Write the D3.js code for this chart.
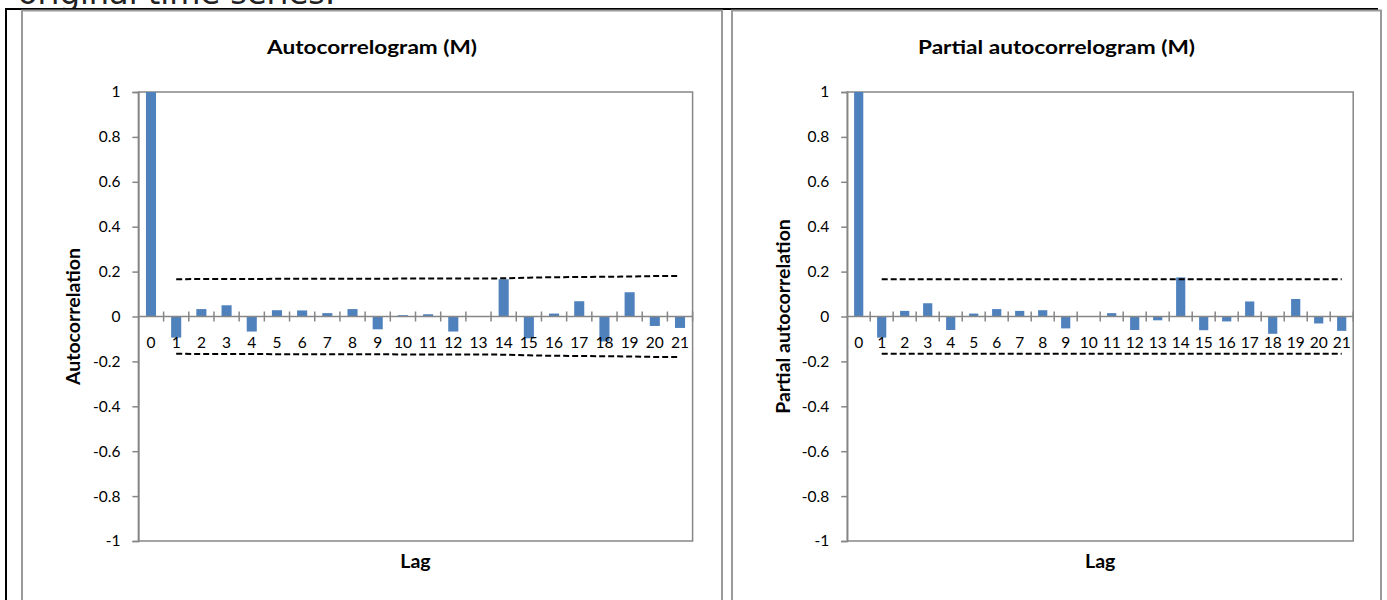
<!DOCTYPE html>
<html>
<head>
<meta charset="utf-8">
<script src="https://cdn.jsdelivr.net/npm/d3@7"></script>
<style>
  html, body { margin: 0; padding: 0; background: #fff; }
  svg { display: block; }
</style>
</head>
<body>
<svg id="chart" width="1387" height="600"></svg>
<script>
// ---- Data ----
const lags = [0,1,2,3,4,5,6,7,8,9,10,11,12,13,14,15,16,17,18,19,20,21];
const acfValues = [1, -0.094, 0.033, 0.050, -0.067, 0.028, 0.027, 0.015, 0.033, -0.057, 0.006,
                   0.010, -0.067, 0.001, 0.166, -0.097, 0.013, 0.068, -0.111, 0.108, -0.042, -0.051];
const pacfValues = [1, -0.094, 0.025, 0.059, -0.060, 0.013, 0.033, 0.025, 0.028, -0.053, 0.000,
                    0.015, -0.060, -0.017, 0.174, -0.061, -0.022, 0.067, -0.077, 0.078, -0.031, -0.064];
const bandLags = [1,2,3,4,5,6,7,8,9,10,11,12,13,14,15,16,17,18,19,20,21];
const acfBandUpper = [0.166, 0.167, 0.167, 0.167, 0.168, 0.168, 0.168, 0.168, 0.168, 0.169, 0.169,
                      0.169, 0.169, 0.170, 0.173, 0.175, 0.176, 0.177, 0.178, 0.180, 0.181];
const pacfBandUpper = [0.166, 0.166, 0.166, 0.166, 0.166, 0.166, 0.166, 0.166, 0.166, 0.166, 0.166,
                       0.166, 0.166, 0.166, 0.166, 0.166, 0.166, 0.166, 0.166, 0.166, 0.166];
const yTicks = [1, 0.8, 0.6, 0.4, 0.2, 0, -0.2, -0.4, -0.6, -0.8, -1];
const titles = ["Autocorrelogram (M)", "Partial autocorrelogram (M)"];
const yTitles = ["Autocorrelation", "Partial autocorrelation"];
const xTitle = "Lag";
const captionText = "original time series.";

const svg = d3.select("#chart");
const FONT = "Lato, 'Open Sans', sans-serif";
const BLUE = "#4F81BD";
const GRAY = "#868686";

// page frame
svg.append("text").attr("x", 18).attr("y", 4)
  .attr("font-family", "'DejaVu Sans', sans-serif").attr("font-size", 32)
  .attr("fill", "#222").text(captionText);
svg.append("line").attr("x1", 5).attr("x2", 1378).attr("y1", 9).attr("y2", 9)
  .attr("stroke", "#000").attr("stroke-width", 2);
svg.append("line").attr("x1", 6).attr("x2", 6).attr("y1", 8).attr("y2", 600)
  .attr("stroke", "#000").attr("stroke-width", 2);

const panels = [
  { frame: [22, 722], plot: [138.4, 692.6], values: acfValues, band: acfBandUpper, title: titles[0], titleW: 210, ytitle: yTitles[0] },
  { frame: [732, 1381], plot: [847.2, 1353.2], values: pacfValues, band: pacfBandUpper, title: titles[1], titleW: 277, ytitle: yTitles[1] }
];

panels.forEach(p => {
  const g = svg.append("g");
  // chart frame (gray)
  g.append("path")
    .attr("d", `M${p.frame[0]},600 V10.5 H${p.frame[1]} V600`)
    .attr("fill", "none").attr("stroke", "#9a9a9a").attr("stroke-width", 2);

  const xb = d3.scaleBand().domain(lags).range(p.plot);
  const y = d3.scaleLinear().domain([-1, 1]).range([541, 92]);
  const cx = (d) => xb(d) + xb.bandwidth() / 2;

  // plot area border
  g.append("rect").attr("x", p.plot[0]).attr("y", y(1))
    .attr("width", p.plot[1] - p.plot[0]).attr("height", y(-1) - y(1))
    .attr("fill", "none").attr("stroke", GRAY).attr("stroke-width", 1.5);

  // y axis
  const yAxis = g.append("g").attr("transform", `translate(${p.plot[0]},0)`)
    .call(d3.axisLeft(y).tickValues(yTicks).tickSize(6).tickPadding(12)
      .tickFormat(d => String(d)));
  yAxis.select(".domain").attr("stroke", GRAY).attr("stroke-width", 1.5);
  yAxis.selectAll(".tick line").attr("stroke", GRAY).attr("stroke-width", 1.5);
  yAxis.selectAll(".tick text").attr("font-family", FONT).attr("font-size", 15.5).attr("fill", "#000");

  // bars
  g.selectAll("rect.bar").data(lags).join("rect").attr("class", "bar")
    .attr("x", d => cx(d) - xb.bandwidth() * 0.2)
    .attr("width", xb.bandwidth() * 0.4)
    .attr("y", (d, i) => y(Math.max(0, p.values[i])))
    .attr("height", (d, i) => Math.abs(y(p.values[i]) - y(0)))
    .attr("fill", BLUE);

  // zero axis line with crossing ticks
  g.append("line").attr("x1", p.plot[0]).attr("x2", p.plot[1]).attr("y1", y(0)).attr("y2", y(0))
    .attr("stroke", GRAY).attr("stroke-width", 1.5);
  g.selectAll("line.xt").data(lags.slice(1)).join("line").attr("class", "xt")
    .attr("x1", d => xb(d)).attr("x2", d => xb(d))
    .attr("y1", y(0) - 5).attr("y2", y(0) + 5)
    .attr("stroke", GRAY).attr("stroke-width", 1.5);
  g.append("line").attr("x1", p.plot[1]).attr("x2", p.plot[1]).attr("y1", y(0) - 5).attr("y2", y(0) + 5)
    .attr("stroke", GRAY).attr("stroke-width", 1.5);

  // x tick labels
  g.selectAll("text.xl").data(lags).join("text").attr("class", "xl")
    .attr("x", d => cx(d)).attr("y", y(0) + 31)
    .attr("text-anchor", "middle").attr("font-family", FONT).attr("font-size", 15.5)
    .attr("fill", "#000").text(d => d);

  // confidence bands
  const line = d3.line().x((d, i) => cx(bandLags[i])).y(d => y(d));
  g.append("path").attr("d", line(p.band))
    .attr("fill", "none").attr("stroke", "#000").attr("stroke-width", 2).attr("stroke-dasharray", "6,3");
  g.append("path").attr("d", line(p.band.map(v => -v)))
    .attr("fill", "none").attr("stroke", "#000").attr("stroke-width", 2).attr("stroke-dasharray", "6,3");

  // titles
  const frameMid = (p.frame[0] + p.frame[1]) / 2;
  g.append("text").attr("x", frameMid).attr("y", 54)
    .attr("text-anchor", "middle").attr("font-family", FONT).attr("font-weight", "bold")
    .attr("font-size", 18.5).attr("fill", "#000")
    .attr("textLength", p.titleW).attr("lengthAdjust", "spacingAndGlyphs")
    .text(p.title);
  g.append("text").attr("x", (p.plot[0] + p.plot[1]) / 2).attr("y", 568)
    .attr("text-anchor", "middle").attr("font-family", FONT).attr("font-weight", "bold")
    .attr("font-size", 19.5).attr("fill", "#000").text(xTitle);
  g.append("text").attr("transform", `translate(${p.frame[0] + 57.5},${y(0)}) rotate(-90)`)
    .attr("text-anchor", "middle").attr("font-family", FONT).attr("font-weight", "bold")
    .attr("font-size", 19.5).attr("fill", "#000").text(p.ytitle);
});
</script>
</body>
</html>
